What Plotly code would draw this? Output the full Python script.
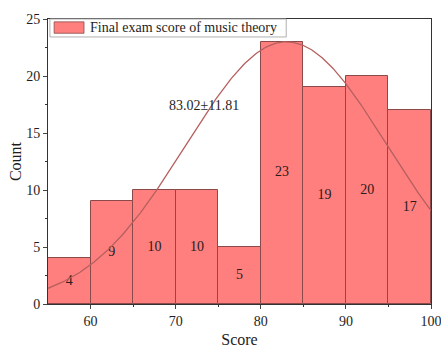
import numpy as np
import plotly.graph_objects as go

# Histogram bins (left edges) and counts
bin_starts = [55, 60, 65, 70, 75, 80, 85, 90, 95]
bin_width = 5
counts = [4, 9, 10, 10, 5, 23, 19, 20, 17]

# Normal fit parameters shown on the chart
fit_mean = 83.02
fit_sd = 11.81
fit_peak = 23.0

x_ticks = [60, 70, 80, 90, 100]
y_ticks = [0, 5, 10, 15, 20, 25]

centers = [s + bin_width / 2 for s in bin_starts]
half_heights = [c / 2 for c in counts]

xs = np.linspace(55, 100, 300)
ys = fit_peak * np.exp(-0.5 * ((xs - fit_mean) / fit_sd) ** 2)

font_family = "Liberation Serif, Times New Roman, serif"
bar_fill = "#FF7F7F"
bar_edge = "#8A4A4A"
curve_color = "#B5605E"
text_color = "#1e1e1e"

fig = go.Figure()
fig.add_trace(go.Bar(
    x=centers, y=counts, width=bin_width,
    marker=dict(color=bar_fill, line=dict(color=bar_edge, width=1)),
    showlegend=False, hoverinfo="x+y",
))
# Count labels at mid-height of each bar
fig.add_trace(go.Scatter(
    x=centers, y=half_heights, mode="text",
    text=[str(c) for c in counts],
    textfont=dict(family=font_family, size=14, color="#2a1a1a"),
    showlegend=False, hoverinfo="skip",
))
fig.add_trace(go.Scatter(
    x=xs, y=ys, mode="lines",
    line=dict(color=curve_color, width=1.3),
    showlegend=False, hoverinfo="skip",
))

fig.add_annotation(
    x=73.3, y=17.4, xref="x", yref="y",
    text=f"{fit_mean:.2f}±{fit_sd:.2f}", showarrow=False,
    font=dict(family=font_family, size=14, color=text_color),
)

# Legend box drawn in paper coordinates
fig.add_shape(type="rect", xref="paper", yref="paper",
              x0=0.005, x1=0.622, y0=0.937, y1=1.0,
              line=dict(color="#B0B0B0", width=1), fillcolor="white", layer="above")
fig.add_shape(type="rect", xref="paper", yref="paper",
              x0=0.016, x1=0.094, y0=0.950, y1=0.990,
              line=dict(color=bar_edge, width=0.8), fillcolor=bar_fill, layer="above")
fig.add_annotation(
    x=0.104, y=0.969, xref="paper", yref="paper", xanchor="left", yanchor="middle",
    text="Final exam score of music theory", showarrow=False,
    font=dict(family=font_family, size=14, color=text_color),
)

fig.update_layout(
    width=441, height=352,
    margin=dict(l=48, r=10, t=19, b=48),
    paper_bgcolor="white", plot_bgcolor="white",
    font=dict(family=font_family, size=14, color=text_color),
    bargap=0,
)
fig.update_xaxes(
    range=[55, 100], tickvals=x_ticks, ticks="outside", ticklen=4,
    showline=True, linecolor="#333", linewidth=1, mirror=True,
    showgrid=False, zeroline=False, automargin=False,
    ticklabeloverflow="allow",
    minor=dict(tickvals=[65, 75, 85, 95], ticks="outside", ticklen=2, tickcolor="#333"),
    title=dict(text="Score", font=dict(family=font_family, size=16), standoff=6),
    tickfont=dict(family=font_family, size=14),
)
fig.update_yaxes(
    range=[0, 25], tickvals=y_ticks, ticks="outside", ticklen=4,
    showline=True, linecolor="#333", linewidth=1, mirror=True,
    showgrid=False, zeroline=False, automargin=False,
    minor=dict(tickvals=[2.5, 7.5, 12.5, 17.5, 22.5], ticks="outside", ticklen=2, tickcolor="#333"),
    title=dict(text="Count", font=dict(family=font_family, size=16), standoff=0),
    tickfont=dict(family=font_family, size=14),
)

fig.write_html("out.html")
